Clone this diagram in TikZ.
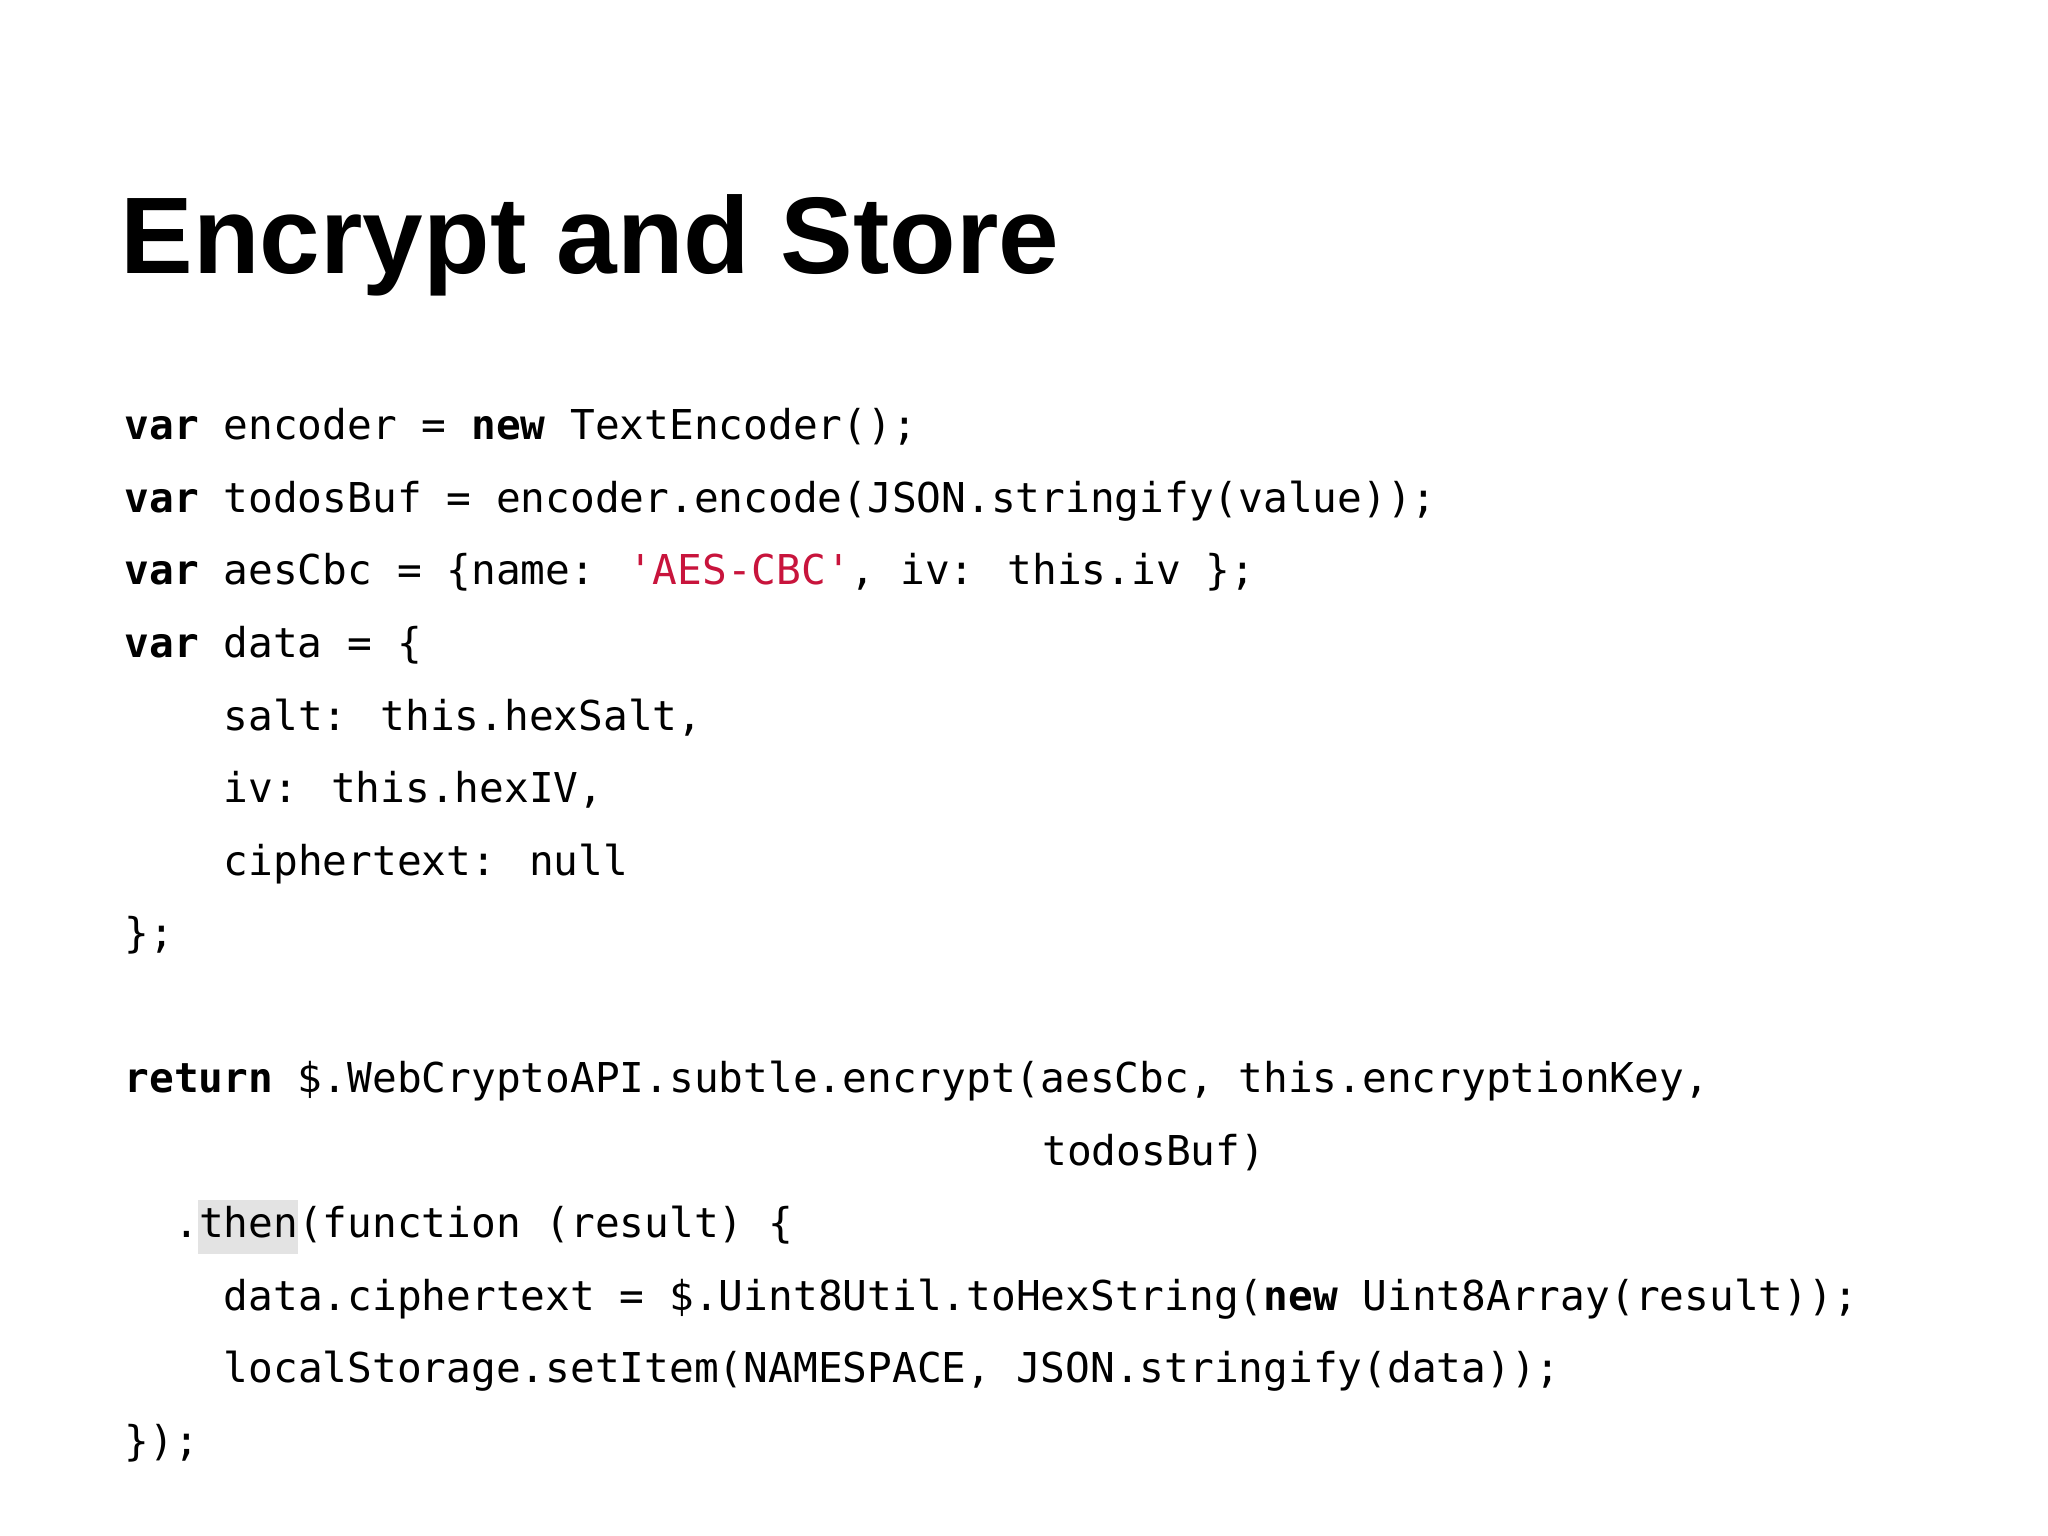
\documentclass[tikz,border=0pt]{standalone}
\usepackage{fontspec}
\setmainfont{Liberation Sans}
\newfontfamily\code{DejaVu Sans Mono}
\definecolor{strred}{RGB}{200,20,60}
\begin{document}
\begin{tikzpicture}[x=1cm,y=1cm,
  ln/.style={anchor=base west,inner sep=0pt,font=\code\fontsize{11.7pt}{14pt}\selectfont}]
\useasboundingbox[fill=white] (0,0) rectangle (20.48,-15.36);
\def\cw{0.248}
\def\lx{1.24}
\node[anchor=base west,inner sep=0pt,font=\bfseries\fontsize{31pt}{36pt}\selectfont] (title) at (1.20,-2.74) {Encrypt and Store};
\node[ln] (l1) at (\lx,-4.40) {\textbf{var} encoder = \textbf{new} TextEncoder();};
\node[ln] (l2) at (\lx,-5.125) {\textbf{var} todosBuf = encoder.encode(JSON.stringify(value));};
\node[ln] (l3) at (\lx,-5.85) {\textbf{var} aesCbc = \{name: \textcolor{strred}{'AES-CBC'}, iv: this.iv \};};
\node[ln] (l4) at (\lx,-6.575) {\textbf{var} data = \{};
\node[ln] (l5) at (\lx+4*\cw,-7.30) {salt: this.hexSalt,};
\node[ln] (l6) at (\lx+4*\cw,-8.025) {iv: this.hexIV,};
\node[ln] (l7) at (\lx+4*\cw,-8.75) {ciphertext: null};
\node[ln] (l8) at (\lx,-9.475) {\};};
\node[ln] (l10) at (\lx,-10.925) {\textbf{return} \$.WebCryptoAPI.subtle.encrypt(aesCbc, this.encryptionKey,};
\node[ln] (l11) at (\lx+37*\cw,-11.65) {todosBuf)};
\fill[gray!22] (\lx+3*\cw,-12.00) rectangle (\lx+7*\cw,-12.54);
\node[ln] (l12) at (\lx+2*\cw,-12.375) {.then(function (result) \{};
\node[ln] (l13) at (\lx+4*\cw,-13.10) {data.ciphertext = \$.Uint8Util.toHexString(\textbf{new} Uint8Array(result));};
\node[ln] (l14) at (\lx+4*\cw,-13.825) {localStorage.setItem(NAMESPACE, JSON.stringify(data));};
\node[ln] (l15) at (\lx,-14.55) {\});};
\end{tikzpicture}
\end{document}
